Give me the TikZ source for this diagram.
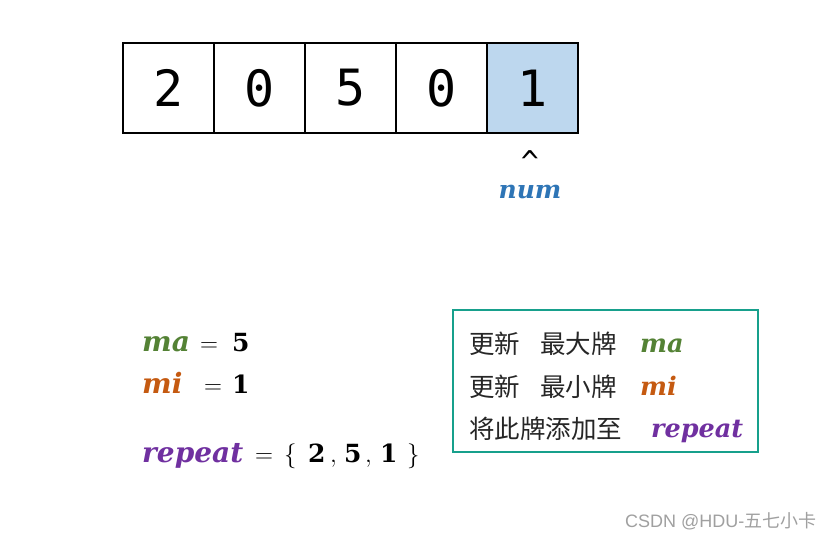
\documentclass[tikz,border=0pt]{standalone}
\usepackage{fontspec}
\newfontfamily\cjkfont{Noto Sans CJK SC}
\newfontfamily\digitfont{DejaVu Sans Mono}
\newfontfamily\varfont{DejaVu Serif}
\newfontfamily\valfont{DejaVu Serif}
\newfontfamily\wmfont{Liberation Sans}
\definecolor{cellblue}{HTML}{BDD7EE}
\definecolor{numblue}{HTML}{2E75B6}
\definecolor{magreen}{HTML}{548235}
\definecolor{miorange}{HTML}{C55A11}
\definecolor{reppurple}{HTML}{7030A0}
\definecolor{boxteal}{HTML}{17A08C}
\definecolor{wmgray}{HTML}{A0A0A0}
\tikzset{
  cell/.style={draw=black, line width=2pt, minimum width=91pt, minimum height=90pt, inner sep=0pt, outer sep=0pt, font=\digitfont\fontsize{50}{60}\selectfont},
  varname/.style={anchor=base west, inner sep=0pt, font=\varfont\fontsize{28}{32}\selectfont\bfseries\itshape},
  boxname/.style={varname, font=\varfont\fontsize{25.5}{30}\selectfont\bfseries\itshape},
  eqsign/.style={anchor=base west, inner sep=0pt, font=\fontsize{31}{36}\selectfont},
  brace/.style={anchor=base west, inner sep=0pt, font=\fontsize{34}{40}\selectfont},
  comma/.style={anchor=base west, inner sep=0pt, font=\fontsize{30}{36}\selectfont},
  valtxt/.style={anchor=base west, inner sep=0pt, font=\valfont\fontsize{25}{30}\selectfont\bfseries},
  cntxt/.style={anchor=base west, inner sep=0pt, font=\cjkfont\fontsize{25.5}{30}\selectfont, text=black!85},
}
\begin{document}
\begin{tikzpicture}[x=1pt,y=-1pt]
\useasboundingbox (0,0) rectangle (837,538);
\fill[white] (0,0) rectangle (837,538);
% array
\node[cell] (c1) at (168.5,88) {2};
\node[cell] (c2) at (259.5,88) {0};
\node[cell] (c3) at (350.5,88) {5};
\node[cell] (c4) at (441.5,88) {0};
\node[cell, fill=cellblue] (c5) at (532.5,88) {1};
% pointer
\node[anchor=north, inner sep=0pt, font=\digitfont\fontsize{30}{36}\selectfont] (caret) at (530,150) {\textasciicircum};
\node[varname, anchor=base, text=numblue, font=\varfont\fontsize{25}{30}\selectfont\bfseries\itshape] (numlbl) at (530,198) {num};
% variables
\node[varname, text=magreen] (ma) at (142,351) {ma};
\node[eqsign] (maeq) at (200,351) {$=$};
\node[valtxt] (maval) at (232,351) {5};
\node[varname, text=miorange] (mi) at (142,393) {mi};
\node[eqsign] (mieq) at (204,393) {$=$};
\node[valtxt] (mival) at (232,393) {1};
\node[varname, text=reppurple] (rep) at (142,462) {repeat};
\node[eqsign] (repeq) at (255,462) {$=$};
\node[brace] (lbr) at (284,462) {$\{$};
\node[valtxt] (r1) at (308,462) {2};
\node[comma] (k1) at (330,462) {$,$};
\node[valtxt] (r2) at (344,462) {5};
\node[comma] (k2) at (365,462) {$,$};
\node[valtxt] (r3) at (380,462) {1};
\node[brace] (rbr) at (407,462) {$\}$};
% legend box
\node[draw=boxteal, line width=1.3pt, minimum width=305pt, minimum height=142pt, inner sep=0pt] (box) at (605.5,381) {};
\node[cntxt] (l1a) at (469,353) {更新};
\node[cntxt] (l1b) at (540,353) {最大牌};
\node[boxname, text=magreen] (l1c) at (640,352) {ma};
\node[cntxt] (l2a) at (469,396) {更新};
\node[cntxt] (l2b) at (540,396) {最小牌};
\node[boxname, text=miorange] (l2c) at (640,395) {mi};
\node[cntxt] (l3a) at (469,438) {将此牌添加至};
\node[boxname, text=reppurple] (l3c) at (651,437) {repeat};
% watermark
\node[anchor=base west, inner sep=0pt, font=\wmfont\fontsize{18}{21}\selectfont, text=wmgray] (wm) at (625,527) {CSDN @HDU-{\cjkfont 五七小卡}};
\end{tikzpicture}
\end{document}
